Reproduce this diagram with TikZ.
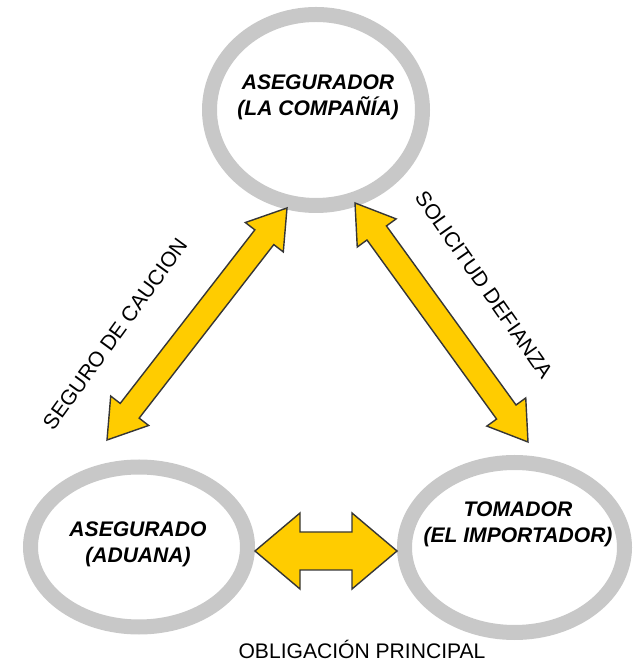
\documentclass[tikz,border=0pt]{standalone}
\usepackage{fontspec}
\setmainfont{Liberation Sans}
\usetikzlibrary{calc,shapes.geometric}
\definecolor{ringgray}{HTML}{C8C8C8}
\definecolor{arrowyellow}{HTML}{FFCC00}
\definecolor{arrowline}{HTML}{363636}

%% block arrow with two heads: tip, tip, head length, head half width, shaft half width
\newcommand{\blockarrow}[5]{%
\filldraw[fill=arrowyellow,draw=arrowline,line width=1pt,line join=miter]
 (#1) -- ($(#1)!#3!(#2)!#4!90:(#2)$) -- ($(#1)!#3!(#2)!#5!90:(#2)$)
 -- ($(#2)!#3!(#1)!#5!-90:(#1)$) -- ($(#2)!#3!(#1)!#4!-90:(#1)$)
 -- (#2) -- ($(#2)!#3!(#1)!#4!90:(#1)$) -- ($(#2)!#3!(#1)!#5!90:(#1)$)
 -- ($(#1)!#3!(#2)!#5!-90:(#2)$) -- ($(#1)!#3!(#2)!#4!-90:(#2)$) -- cycle;}

\begin{document}
\begin{tikzpicture}[
  ring/.style={ellipse,draw=ringgray,line width=0.375cm,inner sep=0pt},
  partytext/.style={align=center,font=\fontsize{15}{18.5}\selectfont\bfseries\itshape},
  reltext/.style={font=\fontsize{15}{18}\selectfont}]
\useasboundingbox (0,0) rectangle (15.95,16.575);

%%Parties
\node[ring,minimum width=5.325cm,minimum height=4.775cm] (insurer) at (7.9,13.825) {};
\node[ring,minimum width=5.425cm,minimum height=4.0cm] (insured) at (3.475,2.9) {};
\node[ring,minimum width=5.5cm,minimum height=4.25cm] (taker) at (12.8625,2.8875) {};

\node[partytext] (insurertxt) at (7.95,14.15) {ASEGURADOR\\(LA COMPAÑÍA)};
\node[partytext] (insuredtxt) at (3.45,2.96) {ASEGURADO\\(ADUANA)};
\node[partytext] (takertxt) at (12.95,3.475) {TOMADOR\\(EL IMPORTADOR)};

%%Arrows
\coordinate (hleft) at (6.375,2.8);
\coordinate (hright) at (9.925,2.8);
\coordinate (ltop) at (7.175,11.375);
\coordinate (lbottom) at (2.675,5.575);
\coordinate (rtop) at (8.875,11.5);
\coordinate (rbottom) at (13.2,5.525);
\blockarrow{hleft}{hright}{1.125cm}{0.95cm}{0.475cm}
\blockarrow{lbottom}{ltop}{0.925cm}{0.6cm}{0.3cm}
\blockarrow{rtop}{rbottom}{0.925cm}{0.6cm}{0.3cm}

%%Label
\node[reltext,rotate=54] (bond) at (2.875,8.225) {SEGURO DE CAUCION};
\node[reltext,rotate=-55] (request) at (12.1,9.45) {SOLICITUD DEFIANZA};
\node[reltext,anchor=base] (duty) at (9.05,0.1) {OBLIGACIÓN PRINCIPAL};
\end{tikzpicture}
\end{document}
